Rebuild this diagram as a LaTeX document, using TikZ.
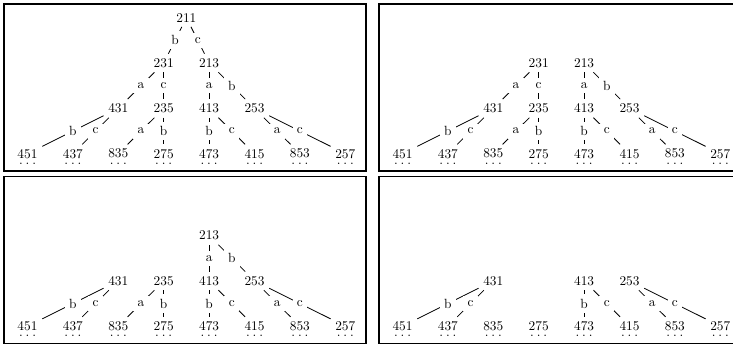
\documentclass[tikz,border=0pt]{standalone}
\tikzset{
  num/.style={inner sep=0.333em},
  lbl/.style={fill=white, inner sep=0.333em, midway},
  tdots/.style={anchor=base, inner sep=0pt},
  edgeln/.style={line width=0.6pt},
  panel/.style={line width=1pt},
}
\newcommand\Dts{.\kern2.2pt.\kern2.2pt.}
% pieces of the tree (pixel coordinates, y downwards)
\newcommand\Frame{\draw[panel] (4,4) rectangle (366,171);}
\newcommand\Leaves{%
  \node[num] (n451) at (27.5,153.7) {451};
  \node[num] (n437) at (72.9,153.7) {437};
  \node[num] (n835) at (118.3,153.7) {835};
  \node[num] (n275) at (163.7,153.7) {275};
  \node[num] (n473) at (209.1,153.7) {473};
  \node[num] (n415) at (254.5,153.7) {415};
  \node[num] (n853) at (299.9,153.7) {853};
  \node[num] (n257) at (345.3,153.7) {257};
  \node[tdots] (d451) at (27.5,164.5) {\Dts};
  \node[tdots] (d437) at (72.9,164.5) {\Dts};
  \node[tdots] (d835) at (118.3,164.5) {\Dts};
  \node[tdots] (d275) at (163.7,164.5) {\Dts};
  \node[tdots] (d473) at (209.1,164.5) {\Dts};
  \node[tdots] (d415) at (254.5,164.5) {\Dts};
  \node[tdots] (d853) at (299.9,164.5) {\Dts};
  \node[tdots] (d257) at (345.3,164.5) {\Dts};}
\newcommand\TFourThreeOne{%
  \node[num] (n431) at (118.3,108.4) {431};
  \draw[edgeln] (n431) -- node[lbl] (l431b) {b} (n451);
  \draw[edgeln] (n431) -- node[lbl] (l431c) {c} (n437);}
\newcommand\TTwoThreeFive{%
  \node[num] (n235) at (163.7,108.4) {235};
  \draw[edgeln] (n235) -- node[lbl] (l235a) {a} (n835);
  \draw[edgeln] (n235) -- node[lbl] (l235b) {b} (n275);}
\newcommand\TFourOneThree{%
  \node[num] (n413) at (209.1,108.4) {413};
  \draw[edgeln] (n413) -- node[lbl] (l413b) {b} (n473);
  \draw[edgeln] (n413) -- node[lbl] (l413c) {c} (n415);}
\newcommand\TTwoFiveThree{%
  \node[num] (n253) at (254.5,108.4) {253};
  \draw[edgeln] (n253) -- node[lbl] (l253a) {a} (n853);
  \draw[edgeln] (n253) -- node[lbl] (l253c) {c} (n257);}
\newcommand\TTwoThreeOne{%
  \node[num] (n231) at (163.7,63) {231};
  \draw[edgeln] (n231) -- node[lbl] (l231a) {a} (n431);
  \draw[edgeln] (n231) -- node[lbl] (l231c) {c} (n235);}
\newcommand\TTwoOneThree{%
  \node[num] (n213) at (209.1,63) {213};
  \draw[edgeln] (n213) -- node[lbl] (l213a) {a} (n413);
  \draw[edgeln] (n213) -- node[lbl] (l213b) {b} (n253);}
\newcommand\TTwoOneOne{%
  \node[num] (n211) at (186.4,17.7) {211};
  \draw[edgeln] (n211) -- node[lbl] (l211b) {b} (n231);
  \draw[edgeln] (n211) -- node[lbl] (l211c) {c} (n213);}
\begin{document}
\begin{tikzpicture}[x=0.75pt,y=-0.75pt]
\useasboundingbox (0,0) rectangle (733,348);
% panel 1
\begin{scope}[name prefix=A-]
  \Frame
  \Leaves
  \TFourThreeOne \TTwoThreeFive \TFourOneThree \TTwoFiveThree
  \TTwoThreeOne \TTwoOneThree
  \TTwoOneOne
\end{scope}
% panel 2
\begin{scope}[shift={(375,0)},name prefix=B-]
  \Frame
  \Leaves
  \TFourThreeOne \TTwoThreeFive \TFourOneThree \TTwoFiveThree
  \TTwoThreeOne \TTwoOneThree
\end{scope}
% panel 3
\begin{scope}[shift={(0,172.5)},name prefix=C-]
  \Frame
  \Leaves
  \TFourThreeOne \TTwoThreeFive \TFourOneThree \TTwoFiveThree
  \TTwoOneThree
\end{scope}
% panel 4
\begin{scope}[shift={(375,172.5)},name prefix=D-]
  \Frame
  \Leaves
  \TFourThreeOne \TFourOneThree \TTwoFiveThree
\end{scope}
\end{tikzpicture}
\end{document}
